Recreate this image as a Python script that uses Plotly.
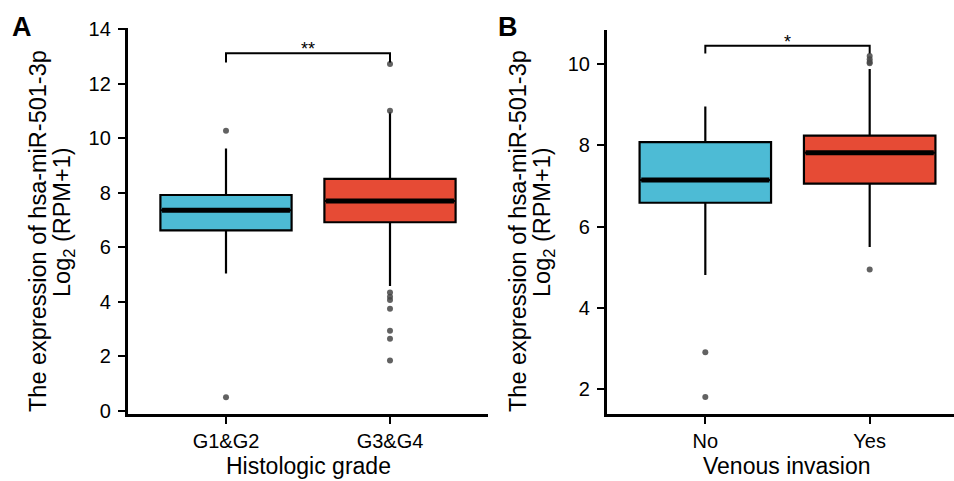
import plotly.graph_objects as go

# ---------------- data ----------------
a_categories = ["G1&G2", "G3&G4"]
a_q1 = [6.62, 6.92]
a_median = [7.36, 7.70]
a_q3 = [7.92, 8.51]
a_lower_whisker = [5.04, 4.58]
a_upper_whisker = [9.63, 10.97]
a_outliers = [[10.28, 0.49],
              [12.73, 11.01, 4.34, 4.18, 4.06, 3.74, 2.94, 2.64, 1.84]]
a_bracket = [12.78, 13.12]   # leg bottom, bar height
a_signif = "**"

b_categories = ["No", "Yes"]
b_q1 = [6.59, 7.06]
b_median = [7.15, 7.82]
b_q3 = [8.08, 8.24]
b_lower_whisker = [4.81, 5.50]
b_upper_whisker = [8.96, 9.88]
b_outliers = [[2.91, 1.81],
              [10.20, 10.12, 10.05, 10.02, 4.95]]
b_bracket = [10.26, 10.45]
b_signif = "*"

a_yticks = [0, 2, 4, 6, 8, 10, 12, 14]
b_yticks = [2, 4, 6, 8, 10]

colors = ["#4DBBD5", "#E64B35"]
FONT = "Liberation Sans, Arial, sans-serif"
W, H = 954, 481

fig = go.Figure()

def add_panel(xa, ya, cats, q1, med, q3, lw, uw, outs, bracket, sig):
    bw = 0.8
    for i in range(len(cats)):
        fig.add_trace(go.Box(
            x=[i], q1=[q1[i]], median=[med[i]], q3=[q3[i]],
            lowerfence=[lw[i]], upperfence=[uw[i]],
            width=bw, whiskerwidth=0, boxpoints=False,
            fillcolor=colors[i], line=dict(color="black", width=2.2),
            xaxis=xa, yaxis=ya, showlegend=False, hoverinfo="skip"))
        fig.add_trace(go.Scatter(
            x=[i - bw / 2 + 0.01, i + bw / 2 - 0.01], y=[med[i], med[i]],
            mode="lines", line=dict(color="black", width=5),
            xaxis=xa, yaxis=ya, showlegend=False, hoverinfo="skip"))
        fig.add_trace(go.Scatter(
            x=[i] * len(outs[i]), y=outs[i], mode="markers",
            marker=dict(color="rgba(70,70,70,0.85)", size=6, line=dict(width=0)),
            xaxis=xa, yaxis=ya, showlegend=False, hoverinfo="skip"))
    fig.add_trace(go.Scatter(
        x=[0, 0, 1, 1], y=[bracket[0], bracket[1], bracket[1], bracket[0]],
        mode="lines", line=dict(color="black", width=2),
        xaxis=xa, yaxis=ya, showlegend=False, hoverinfo="skip"))
    fig.add_annotation(x=0.5, y=bracket[1], xref=xa, yref=ya, text=sig,
                       showarrow=False, yanchor="bottom", yshift=-8,
                       font=dict(family=FONT, size=18, color="black"))

add_panel("x", "y", a_categories, a_q1, a_median, a_q3, a_lower_whisker,
          a_upper_whisker, a_outliers, a_bracket, a_signif)
add_panel("x2", "y2", b_categories, b_q1, b_median, b_q3, b_lower_whisker,
          b_upper_whisker, b_outliers, b_bracket, b_signif)

axis_common = dict(showline=True, linecolor="black", linewidth=2.5,
                   ticks="outside", ticklen=7, tickwidth=2, tickcolor="black",
                   showgrid=False, zeroline=False, automargin=False,
                   tickfont=dict(family=FONT, size=20, color="black"))

bottom = (H - 414.3) / H
fig.update_layout(
    width=W, height=H, autosize=False, margin=dict(l=0, r=0, t=0, b=0, pad=0),
    paper_bgcolor="white", plot_bgcolor="white",
    xaxis=dict(domain=[127.6 / W, 488.4 / W], range=[-0.6, 1.6],
               tickvals=[0, 1], ticktext=a_categories, anchor="y",
               **axis_common),
    yaxis=dict(domain=[bottom, (H - 28.3) / H], range=[-0.132, 14.04],
               tickvals=a_yticks, anchor="x", ticklabelstandoff=3,
               **axis_common),
    xaxis2=dict(domain=[606.7 / W, 1.0], range=[-0.6, 1.513],
                tickvals=[0, 1], ticktext=b_categories, anchor="y2",
                **axis_common),
    yaxis2=dict(domain=[bottom, (H - 30) / H], range=[1.385, 10.84],
                tickvals=b_yticks, anchor="x2", ticklabelstandoff=3,
                **axis_common),
)

def ann(x, y, text, size, angle=0, bold=False):
    fig.add_annotation(x=x / W, y=1 - y / H, xref="paper", yref="paper",
                       text=("<b>%s</b>" % text) if bold else text,
                       showarrow=False, textangle=angle,
                       xanchor="center", yanchor="middle",
                       font=dict(family=FONT, size=size, color="black"))

# axis titles
ann(308, 466, "Histologic grade", 23)
ann(787, 466, "Venous invasion", 23)
ann(38, 231, "The expression of hsa-miR-501-3p", 23.5, angle=-90)
ann(63, 222, "Log<sub>2</sub> (RPM+1)", 23.5, angle=-90)
ann(518, 231, "The expression of hsa-miR-501-3p", 23.5, angle=-90)
ann(543, 222, "Log<sub>2</sub> (RPM+1)", 23.5, angle=-90)
# panel letters
ann(22, 27, "A", 27, bold=True)
ann(508, 27, "B", 27, bold=True)

fig.write_html("out.html", config={"responsive": False, "displayModeBar": False},
               post_script="document.body.style.margin='0';document.body.style.overflow='hidden';")
